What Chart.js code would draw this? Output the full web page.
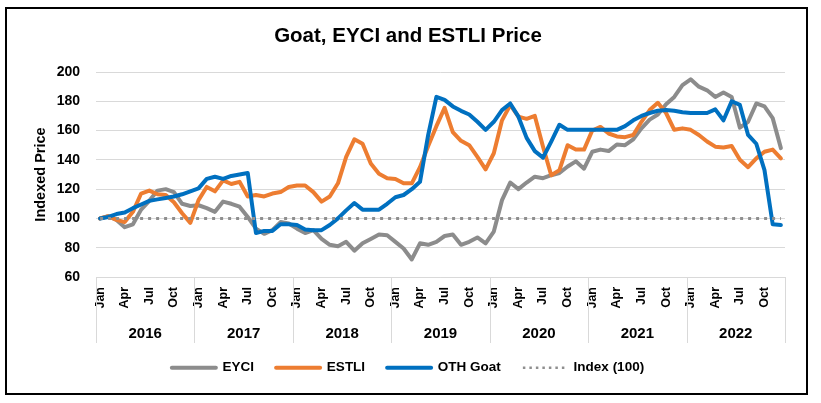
<!DOCTYPE html>
<html>
<head>
<meta charset="utf-8">
<title>Goat, EYCI and ESTLI Price</title>
<script src="https://cdn.jsdelivr.net/npm/chart.js@4.4.0/dist/chart.umd.min.js"></script>
<style>
  html, body { margin: 0; padding: 0; background: #fff; }
  #frame {
    position: absolute; left: 5px; top: 7px;
    width: 803px; height: 388px;
    border: 2px solid #000; box-sizing: border-box; background: #fff;
  }
  canvas { display: block; }
</style>
</head>
<body>
<div id="frame"><canvas id="chart" width="799" height="384"></canvas></div>
<script>
  // axis categories
  const years = ['2016', '2017', '2018', '2019', '2020', '2021', '2022'];
  const months = ['Jan', 'Feb', 'Mar', 'Apr', 'May', 'Jun', 'Jul', 'Aug', 'Sep', 'Oct', 'Nov', 'Dec'];
  const tickMonths = ['Jan', 'Apr', 'Jul', 'Oct'];

  // monthly indexed prices, Jan 2016 .. Dec 2022
  const eyci = [
    100, 101.5, 99, 94, 96, 106, 112, 119, 120, 118, 110, 108.5,
    109, 107, 104.5, 111.5, 110, 108, 101, 93, 89.5, 92, 97.5, 96.5,
    93, 90, 92, 86, 82, 81, 84, 78, 83, 86, 89, 88.5,
    84, 79.5, 72, 83, 82, 84, 88, 89, 82, 84, 87, 83,
    91, 112.5, 124.5, 120, 124.5, 128.5, 127.5, 129.5, 131, 135.5, 139, 134,
    145.5, 147, 146, 150.5, 150, 154, 161.5, 167.5, 171, 178, 183, 191,
    195, 190, 187.5, 183, 186, 183, 162, 166, 178.5, 176.5, 168.5, 148
  ];
  const estli = [
    100, 101.5, 99, 97.5, 104.5, 117, 119, 116.5, 116, 111, 103.5, 97,
    112.5, 121.5, 118.5, 126, 123.5, 125, 115, 116, 115, 117, 118, 121.5,
    122.5, 122.5, 118, 111.5, 115, 124, 142, 154, 151, 137.5, 130.5, 127.5,
    127, 124, 124, 135, 149.5, 163, 175.5, 159, 153, 150, 142, 133.5,
    144.5, 167, 177.5, 169.5, 168, 170, 149, 129.5, 133, 150, 147, 147,
    160, 162.5, 158, 156, 155.5, 157, 166, 174, 179, 172, 160.5, 161.5,
    160.5, 157, 152.5, 149, 148.5, 149.5, 140, 135, 141, 145.5, 147, 141
  ];
  const othGoat = [
    100, 101, 103, 104, 107, 109.5, 112, 113, 114, 115, 116.5, 118.5,
    120.5, 127, 128.5, 127, 129, 130, 131, 90, 91.5, 91.5, 96, 96,
    95.5, 92.5, 92, 92, 95.5, 100, 105.5, 110.5, 106, 106, 106, 110,
    114.5, 116, 120, 125, 157, 183, 181, 176.5, 173.5, 171, 166, 160.5,
    166, 174, 178.5, 169.5, 155, 146, 141.5, 152.5, 164, 160.5, 160.5, 160.5,
    160.5, 160.5, 160.5, 160.5, 163, 167, 170, 172, 173.5, 174, 173.5, 172.5,
    172, 172, 172, 174.5, 167, 180, 177.5, 157, 151, 133, 96, 95.5
  ];
  const indexLevel = 100;

  // value axis
  const yMin = 60;
  const yMax = 200;
  const yStep = 20;

  const categories = years.flatMap(y => months.map(m => m + ' ' + y));

  const FONT = "'Liberation Sans', Arial, sans-serif";
  Chart.defaults.font.family = FONT;
  Chart.defaults.color = '#000';

  // light separators between the year groups under the axis
  const yearDividers = {
    id: 'yearDividers',
    afterDraw(chart) {
      const x = chart.scales.x;
      const yr = chart.scales.year;
      const step = (x.right - x.left) / years.length;
      const ctx = chart.ctx;
      ctx.save();
      ctx.strokeStyle = '#d9d9d9';
      ctx.lineWidth = 1;
      ctx.beginPath();
      for (let i = 0; i <= years.length; i++) {
        const px = Math.round(x.left + step * i) + 0.5;
        ctx.moveTo(px, x.top);
        ctx.lineTo(px, yr.bottom + 4);
      }
      ctx.stroke();
      ctx.restore();
    }
  };

  // keep the legend band short so it sits right under the year labels
  const legendBand = {
    id: 'legendBand',
    beforeInit(chart) {
      const fit = chart.legend.fit;
      chart.legend.fit = function () {
        fit.call(this);
        this.height = 54;
      };
    }
  };

  const line = (label, data, color, order) => ({
    label, data, order,
    borderColor: color,
    backgroundColor: color,
    borderWidth: 4,
    borderJoinStyle: 'round',
    borderCapStyle: 'round',
    pointRadius: 0,
    pointHoverRadius: 0,
    tension: 0
  });

  new Chart(document.getElementById('chart'), {
    type: 'line',
    data: {
      labels: categories,
      datasets: [
        line('EYCI', eyci, '#8c8c8c', 4),
        line('ESTLI', estli, '#ed7d31', 3),
        line('OTH Goat', othGoat, '#0070c0', 2),
        {
          label: 'Index (100)',
          data: [
            { x: categories[0], y: indexLevel },
            { x: categories[categories.length - 1], y: indexLevel }
          ],
          order: 1,
          borderColor: '#8f8f8f',
          backgroundColor: '#8f8f8f',
          borderWidth: 3,
          borderDash: [3, 5],
          pointRadius: 0,
          pointHoverRadius: 0
        }
      ]
    },
    options: {
      responsive: false,
      animation: false,
      layout: { padding: { left: 3, right: 0, top: 0, bottom: 0 } },
      plugins: {
        title: {
          display: true,
          text: 'Goat, EYCI and ESTLI Price',
          color: '#000',
          font: { size: 20.5, weight: 'bold' },
          padding: { top: 15, bottom: 23.4 }
        },
        legend: {
          position: 'bottom',
          labels: {
            usePointStyle: true,
            pointStyle: 'line',
            pointStyleWidth: 44,
            padding: 22,
            color: '#000',
            font: { size: 13.5, weight: 'bold' },
            sort: (a, b) => a.datasetIndex - b.datasetIndex,
            generateLabels(chart) {
              const items = Chart.defaults.plugins.legend.labels.generateLabels(chart);
              items.forEach(item => {
                const ds = chart.data.datasets[item.datasetIndex];
                if (ds.borderDash) {
                  item.lineDash = [2.5, 4];
                  item.lineWidth = 2.5;
                  item.lineCap = 'butt';
                } else {
                  item.lineDash = [];
                  item.lineWidth = ds.borderWidth;
                  item.lineCap = 'round';
                }
              });
              return items;
            }
          }
        },
        tooltip: { enabled: false }
      },
      scales: {
        x: {
          offset: true,
          grid: { display: false, drawTicks: false },
          border: { display: true, color: '#d9d9d9', width: 1 },
          ticks: {
            autoSkip: false,
            minRotation: 90,
            maxRotation: 90,
            padding: 10,
            color: '#000',
            font: { size: 12.5, weight: 'bold' },
            callback(value) {
              const m = this.getLabelForValue(value).split(' ')[0];
              return tickMonths.includes(m) ? m : '';
            }
          },
          afterFit(s) { s.height = 40; }
        },
        year: {
          type: 'category',
          labels: years,
          position: 'bottom',
          offset: true,
          weight: 1,
          grid: { display: false, drawTicks: false },
          border: { display: false },
          ticks: {
            autoSkip: false,
            maxRotation: 0,
            padding: 8,
            color: '#000',
            font: { size: 15, weight: 'bold' }
          },
          afterFit(s) { s.height = 22; }
        },
        y: {
          min: yMin,
          max: yMax,
          ticks: {
            stepSize: yStep,
            padding: 16,
            color: '#000',
            font: { size: 14, weight: 'bold' }
          },
          grid: { color: '#d9d9d9', drawTicks: false },
          border: { display: false },
          title: {
            display: true,
            text: 'Indexed Price',
            color: '#000',
            font: { size: 14.5, weight: 'bold' },
            padding: { top: 22, bottom: 0 }
          },
          afterFit(s) { s.width = 86; }
        },
        pad: {
          type: 'linear',
          position: 'right',
          grid: { display: false, drawTicks: false },
          border: { display: false },
          ticks: { display: false },
          afterFit(s) { s.width = 19; }
        }
      }
    },
    plugins: [yearDividers, legendBand]
  });
</script>
</body>
</html>
